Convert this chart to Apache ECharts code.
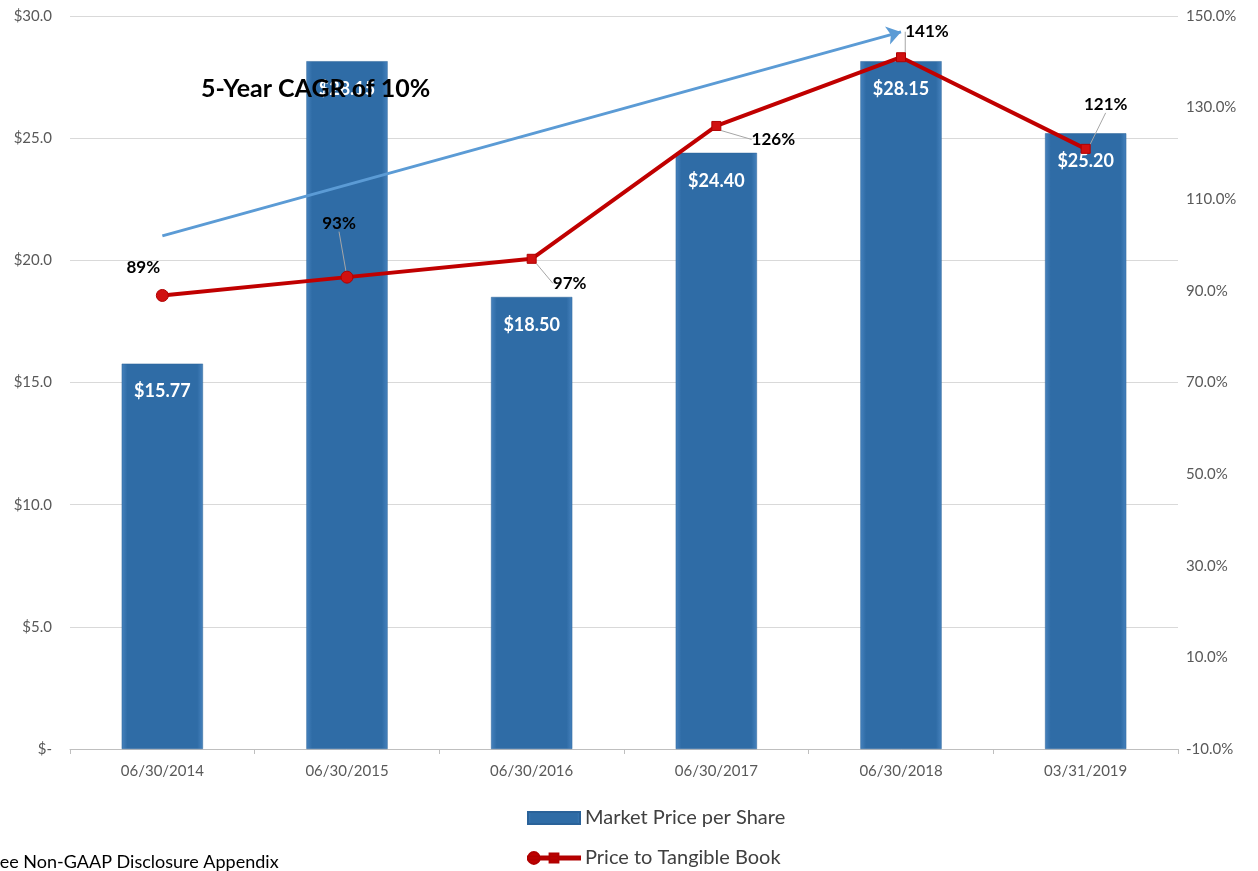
<!DOCTYPE html>
<html>
<head>
<meta charset="utf-8">
<script src="https://cdn.jsdelivr.net/npm/echarts@6/dist/echarts.min.js"></script>
<style>
  html, body { margin: 0; padding: 0; background: #fff; }
  #chart { width: 1258px; height: 871px; }
</style>
</head>
<body>
<div id="chart"></div>
<script>
// Reporting dates
const categories = ['06/30/2014', '06/30/2015', '06/30/2016', '06/30/2017', '06/30/2018', '03/31/2019'];
// Market price per share ($)
const marketPrice = [15.77, 28.15, 18.50, 24.40, 28.15, 25.20];
// Price to tangible book (%)
const priceToTangibleBook = [89, 93, 97, 126, 141, 121];
// CAGR trend arrow: [category index, $ value] at each end
const trendStart = [0, 21.0];
const trendEnd = [4, 29.35];
const cagrText = '5-Year CAGR of 10%';
const footnote = 'See Non-GAAP Disclosure Appendix';

const FONT = 'Lato, "Open Sans", sans-serif';

// Offsets of each percentage label from its point
const labelShift = [
  { dx: -19, dy: -8, line: false },
  { dx: -8, dy: -34, line: true },
  { dx: 38, dy: 43, line: true },
  { dx: 57, dy: 32, line: true },
  { dx: 26, dy: -7, line: true },
  { dx: 20, dy: -26, line: true }
];

// Legend icon for the ratio series: line with a dot and a square marker
const ratioIcon = 'path://M0,4.5L53,4.5L53,7.5L0,7.5Z' +
  'M0,6A6,6,0,1,1,12,6A6,6,0,1,1,0,6Z' +
  'M22,1.5L31,1.5L31,10.5L22,10.5Z';

const chart = echarts.init(document.getElementById('chart'));

const barColor = new echarts.graphic.LinearGradient(0, 0, 1, 0, [
  { offset: 0, color: '#4682BD' },
  { offset: 0.07, color: '#2F6CA6' },
  { offset: 0.93, color: '#2F6CA6' },
  { offset: 1, color: '#4682BD' }
]);

chart.setOption({
  animation: false,
  textStyle: { fontFamily: FONT },
  title: {
    text: cagrText,
    left: 196,
    top: 71,
    z: 10,
    textStyle: { fontFamily: FONT, fontSize: 25, fontWeight: 'bold', color: '#000' }
  },
  graphic: [{
    type: 'text',
    left: -10,
    top: 853,
    style: { text: footnote, fontFamily: FONT, fontSize: 18, fill: '#000' }
  }],
  legend: {
    orient: 'vertical',
    left: 527,
    top: 808,
    height: 80,
    padding: 0,
    itemGap: 20,
    itemWidth: 52,
    itemHeight: 12,
    textStyle: { fontFamily: FONT, fontSize: 20, color: '#404040' },
    data: [
      { name: 'Market Price per Share', icon: 'rect' },
      { name: 'Price to Tangible Book', icon: ratioIcon, itemStyle: { color: '#C00000' } }
    ]
  },
  grid: { left: 70, right: 80, top: 16, bottom: 122, containLabel: false },
  xAxis: {
    type: 'category',
    data: categories,
    boundaryGap: true,
    axisLine: { lineStyle: { color: '#BFBFBF', width: 1 } },
    axisTick: { show: true, length: 5, lineStyle: { color: '#BFBFBF' } },
    axisLabel: { color: '#595959', fontSize: 15, margin: 15, fontFamily: FONT }
  },
  yAxis: [{
    type: 'value',
    min: 0,
    max: 30,
    interval: 5,
    axisLine: { show: false },
    axisTick: { show: false },
    splitLine: { lineStyle: { color: '#D9D9D9', width: 1 } },
    axisLabel: {
      color: '#595959', fontSize: 15, margin: 18, fontFamily: FONT,
      formatter: v => v === 0 ? '$-' : '$' + v.toFixed(1)
    }
  }, {
    type: 'value',
    min: -10,
    max: 150,
    interval: 20,
    axisLine: { show: false },
    axisTick: { show: false },
    splitLine: { show: false },
    axisLabel: {
      color: '#595959', fontSize: 15, margin: 8, fontFamily: FONT,
      formatter: v => v.toFixed(1) + '%'
    }
  }],
  series: [{
    name: 'Market Price per Share',
    type: 'bar',
    yAxisIndex: 0,
    barWidth: '44%',
    data: marketPrice,
    itemStyle: {
      color: barColor,
      borderColor: '#2A6299',
      borderWidth: 0.5
    },
    label: {
      show: true,
      position: 'insideTop',
      distance: 19,
      color: '#fff',
      fontSize: 18,
      fontWeight: 'bold',
      fontFamily: FONT,
      formatter: p => '$' + p.value.toFixed(2)
    },
    markLine: {
      silent: true,
      symbol: ['none', 'arrow'],
      symbolSize: [14, 14],
      label: { show: false },
      lineStyle: { color: '#5B9BD5', width: 3, type: 'solid' },
      data: [[
        { coord: [trendStart[0], trendStart[1]] },
        { coord: [trendEnd[0], trendEnd[1]] }
      ]]
    }
  }, {
    name: 'Price to Tangible Book',
    type: 'line',
    yAxisIndex: 1,
    data: priceToTangibleBook.map((v, i) => ({
      value: v,
      symbol: i < 2 ? 'circle' : 'rect',
      symbolSize: i < 2 ? 12 : 9,
      labelLine: { show: labelShift[i].line }
    })),
    z: 5,
    lineStyle: { color: '#C00000', width: 4 },
    itemStyle: { color: '#D01010', borderColor: '#B00000', borderWidth: 1 },
    label: {
      show: true,
      position: 'top',
      distance: 5,
      color: '#000',
      fontSize: 17,
      fontWeight: 'bold',
      fontFamily: FONT,
      formatter: p => p.value + '%'
    },
    labelLine: {
      show: true,
      lineStyle: { color: '#A6A6A6', width: 1 }
    },
    labelLayout: p => ({ dx: labelShift[p.dataIndex].dx, dy: labelShift[p.dataIndex].dy })
  }]
});
</script>
</body>
</html>
